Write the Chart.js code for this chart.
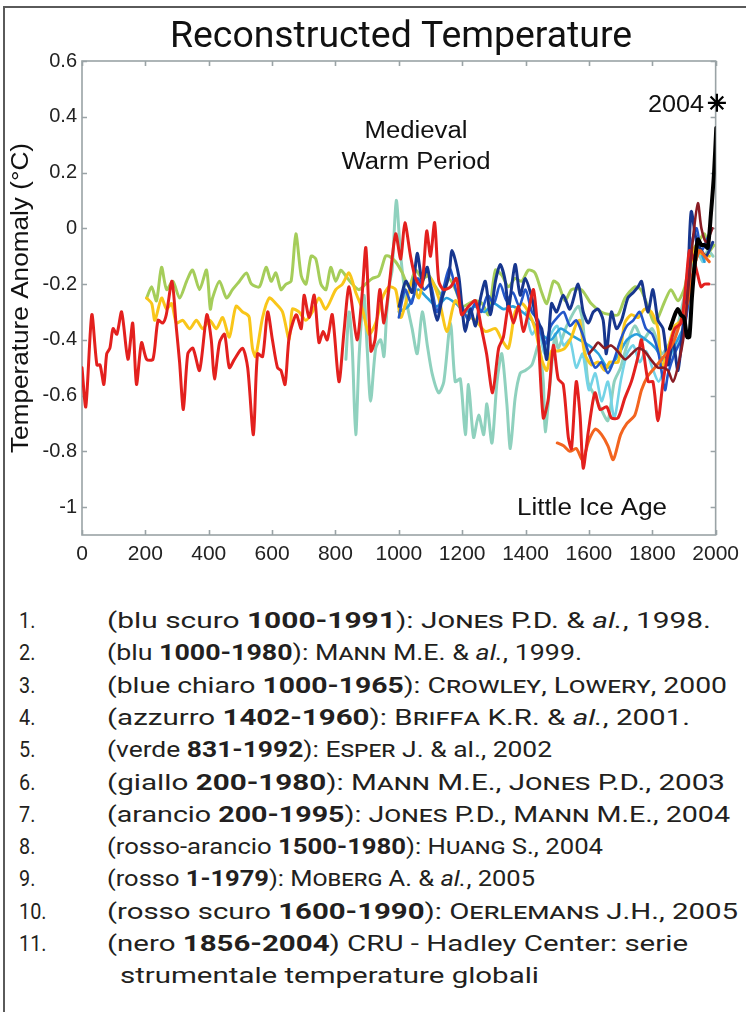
<!DOCTYPE html>
<html><head><meta charset="utf-8">
<script src="https://cdn.jsdelivr.net/npm/chart.js@4.4.1/dist/chart.umd.min.js"></script>
<style>
html,body{margin:0;padding:0;background:#fff;}
body{width:746px;height:1012px;position:relative;overflow:hidden;}
#frameTop{position:absolute;left:3px;top:6px;width:743px;height:0;border-top:2px solid #5a5a5a;}
#frameLeft{position:absolute;left:3px;top:6px;width:0;height:1006px;border-left:2px solid #5a5a5a;}
#c{position:absolute;left:0;top:0;}
#legend span.num,#legend span.txt{position:absolute;white-space:nowrap;font-family:Roboto,"Liberation Sans",sans-serif;font-size:22px;color:#231f20;transform-origin:0 0;line-height:26px;}
#legend b{font-weight:700;}
#legend .sc{font-variant:small-caps;}
#legend .bl{display:inline-block;width:0;height:0;vertical-align:baseline;}
</style></head>
<body>
<canvas id="c" width="746" height="575"></canvas>
<div id="frameTop"></div><div id="frameLeft"></div>
<div id="legend"></div>
<script>
// ---------- axis ticks ----------
const xTicks = [0,200,400,600,800,1000,1200,1400,1600,1800,2000];
const yTicks = [-1,-0.8,-0.6,-0.4,-0.2,0,0.2,0.4,0.6];
const yTickLabels = ['-1','-0.8','-0.6','-0.4','-0.2','0','0.2','0.4','0.6'];

// ---------- series (year, anomaly °C) ----------
// 1. Jones et al. 1998 (dark blue)
const jonesYears = [1001,1022,1042,1058,1074,1090,1105,1121,1137,1158,1168,1189,1200,1210,1226,1242,1258,1273,1289,1305,1320,1336,1346,1367,1383,1399,1420,1435,1451,1467,1482,1498,1519,1540,1566,1582,1598,1614,1629,1645,1655,1671,1687,1703,1723,1740,1755,1766,1776,1787,1802,1818,1834,1850,1865,1881,1897,1913,1923,1940,1955,1970,1991];
const jonesVals  = [-0.28,-0.19,-0.23,-0.09,-0.19,-0.14,-0.25,-0.33,-0.25,-0.17,-0.08,-0.17,-0.29,-0.37,-0.29,-0.35,-0.25,-0.19,-0.31,-0.19,-0.13,-0.19,-0.29,-0.13,-0.24,-0.18,-0.25,-0.33,-0.36,-0.47,-0.27,-0.30,-0.24,-0.29,-0.20,-0.30,-0.34,-0.30,-0.29,-0.33,-0.45,-0.30,-0.36,-0.33,-0.25,-0.23,-0.21,-0.19,-0.25,-0.30,-0.22,-0.33,-0.36,-0.49,-0.40,-0.51,-0.35,-0.15,0.06,-0.05,-0.08,-0.10,-0.05];
// 2. Mann et al. 1999 (blue)
const mann99Years = [1000,1020,1040,1060,1080,1100,1120,1140,1160,1180,1200,1220,1240,1260,1280,1300,1320,1340,1360,1380,1400,1420,1440,1460,1480,1500,1520,1540,1560,1580,1600,1620,1640,1660,1680,1700,1720,1740,1760,1780,1800,1820,1840,1850,1870,1890,1910,1925,1940,1955,1980];
const mann99Vals  = [-0.32,-0.22,-0.27,-0.18,-0.22,-0.20,-0.30,-0.22,-0.14,-0.22,-0.28,-0.33,-0.27,-0.30,-0.24,-0.27,-0.20,-0.26,-0.23,-0.28,-0.22,-0.30,-0.33,-0.42,-0.35,-0.32,-0.30,-0.35,-0.33,-0.38,-0.45,-0.50,-0.48,-0.52,-0.47,-0.40,-0.35,-0.33,-0.30,-0.36,-0.38,-0.45,-0.58,-0.52,-0.45,-0.40,-0.30,-0.05,0.00,-0.08,-0.02];
// 3. Crowley & Lowery 2000 (light blue)
const crowleyYears = [1000,1030,1060,1090,1120,1150,1180,1210,1240,1270,1300,1330,1360,1390,1420,1450,1480,1510,1540,1570,1600,1630,1660,1690,1720,1750,1780,1810,1840,1870,1900,1930,1950,1965];
const crowleyVals  = [-0.30,-0.28,-0.22,-0.25,-0.28,-0.25,-0.27,-0.30,-0.28,-0.30,-0.27,-0.29,-0.28,-0.30,-0.33,-0.38,-0.40,-0.36,-0.38,-0.40,-0.42,-0.45,-0.50,-0.46,-0.40,-0.38,-0.40,-0.43,-0.48,-0.42,-0.35,-0.15,-0.08,-0.12];
// 4. Briffa et al. 2001 (azzurro)
const briffaYears = [1402,1420,1440,1460,1480,1500,1520,1540,1560,1580,1600,1620,1640,1660,1680,1700,1720,1740,1760,1780,1800,1820,1840,1860,1880,1900,1920,1940,1960];
const briffaVals  = [-0.30,-0.38,-0.35,-0.45,-0.38,-0.35,-0.42,-0.40,-0.50,-0.45,-0.58,-0.52,-0.62,-0.55,-0.68,-0.55,-0.45,-0.42,-0.48,-0.44,-0.50,-0.55,-0.50,-0.45,-0.42,-0.35,-0.15,-0.08,-0.12];
// 5. Esper et al. 2002 (verde)
const esperYears = [833,843,853,864,875,890,900,911,927,943,953,962,972,979,992,1006,1022,1042,1058,1074,1090,1105,1126,1142,1163,1178,1194,1210,1220,1236,1252,1268,1278,1294,1310,1325,1341,1352,1367,1383,1399,1420,1441,1456,1462,1477,1493,1503,1530,1566,1580,1597,1618,1639,1660,1680,1700,1720,1745,1770,1800,1830,1860,1880,1900,1920,1940,1960,1975,1992];
const esperVals  = [-0.47,-0.30,-0.43,-0.74,-0.45,-0.24,-0.43,-0.62,-0.43,-0.40,-0.46,-0.30,-0.19,-0.15,0.10,-0.10,-0.25,-0.36,-0.45,-0.30,-0.42,-0.52,-0.59,-0.55,-0.34,-0.55,-0.54,-0.74,-0.56,-0.75,-0.67,-0.74,-0.63,-0.77,-0.55,-0.45,-0.63,-0.79,-0.61,-0.52,-0.51,-0.49,-0.42,-0.55,-0.73,-0.56,-0.38,-0.43,-0.35,-0.28,-0.33,-0.55,-0.60,-0.65,-0.69,-0.55,-0.50,-0.42,-0.35,-0.40,-0.36,-0.45,-0.40,-0.35,-0.25,-0.15,-0.08,-0.12,-0.08,-0.10];
// 6. Mann & Jones 2003 (giallo)
const mj03Years = [204,220,230,251,267,283,298,318,340,361,381,403,424,444,465,486,507,522,528,538,548,570,591,612,633,654,664,685,706,727,748,769,801,822,843,864,885,906,927,948,969,990,1006,1026,1042,1063,1084,1105,1126,1152,1178,1210,1242,1273,1305,1325,1346,1367,1388,1409,1430,1451,1467,1482,1503,1524,1545,1561,1571,1587,1608,1629,1650,1666,1692,1713,1734,1755,1776,1797,1818,1829,1850,1871,1892,1913,1934,1955,1980];
const mj03Vals  = [-0.25,-0.27,-0.33,-0.25,-0.29,-0.27,-0.34,-0.33,-0.36,-0.33,-0.36,-0.33,-0.36,-0.32,-0.39,-0.28,-0.30,-0.31,-0.32,-0.43,-0.46,-0.32,-0.25,-0.27,-0.30,-0.40,-0.29,-0.30,-0.33,-0.30,-0.25,-0.29,-0.22,-0.20,-0.16,-0.23,-0.29,-0.38,-0.34,-0.25,-0.21,-0.22,-0.32,-0.25,-0.19,-0.25,-0.16,-0.19,-0.25,-0.37,-0.26,-0.31,-0.33,-0.37,-0.36,-0.40,-0.43,-0.30,-0.27,-0.30,-0.36,-0.47,-0.51,-0.44,-0.44,-0.43,-0.39,-0.34,-0.33,-0.45,-0.49,-0.48,-0.51,-0.48,-0.48,-0.34,-0.31,-0.32,-0.29,-0.30,-0.36,-0.50,-0.43,-0.35,-0.33,-0.19,-0.07,-0.09,-0.10];
// 7. Jones & Mann 2004 (arancio / drawn lime)
const jm04Years = [204,220,235,251,267,287,308,330,349,371,393,405,412,434,456,475,497,519,535,560,581,597,612,628,644,660,675,692,707,723,738,754,770,785,801,817,832,853,874,895,916,937,958,969,990,1011,1032,1053,1074,1095,1116,1137,1158,1179,1200,1221,1242,1263,1283,1305,1326,1346,1367,1388,1409,1430,1451,1467,1488,1503,1525,1545,1576,1607,1639,1670,1692,1714,1745,1764,1786,1808,1840,1859,1881,1903,1920,1944,1965,1980,1995];
const jm04Vals  = [-0.25,-0.21,-0.26,-0.14,-0.22,-0.19,-0.25,-0.19,-0.15,-0.22,-0.15,-0.29,-0.25,-0.19,-0.25,-0.22,-0.19,-0.16,-0.20,-0.21,-0.14,-0.19,-0.16,-0.22,-0.20,-0.19,-0.02,-0.17,-0.20,-0.10,-0.11,-0.20,-0.22,-0.14,-0.19,-0.15,-0.17,-0.20,-0.22,-0.20,-0.18,-0.17,-0.10,-0.10,-0.12,-0.16,-0.21,-0.15,-0.18,-0.17,-0.21,-0.24,-0.18,-0.22,-0.28,-0.27,-0.26,-0.27,-0.31,-0.15,-0.17,-0.21,-0.18,-0.19,-0.15,-0.16,-0.23,-0.27,-0.19,-0.20,-0.26,-0.22,-0.22,-0.27,-0.30,-0.31,-0.31,-0.25,-0.21,-0.22,-0.28,-0.34,-0.26,-0.22,-0.26,-0.21,-0.10,-0.05,-0.02,-0.08,-0.06];
// 8. Huang 2004 (rosso-arancio)
const huangYears = [1500,1520,1540,1560,1580,1600,1620,1640,1660,1677,1700,1720,1745,1766,1786,1808,1829,1850,1870,1890,1913,1930,1950,1965,1980];
const huangVals  = [-0.77,-0.78,-0.80,-0.79,-0.83,-0.76,-0.72,-0.74,-0.78,-0.83,-0.74,-0.70,-0.67,-0.58,-0.53,-0.50,-0.47,-0.44,-0.40,-0.33,-0.26,-0.15,-0.08,-0.10,-0.12];
// 9. Moberg et al. 2005 (rosso)
const mobergYears = [0,12,31,47,57,69,78,88,98,110,125,145,160,172,188,204,224,240,255,266,284,298,308,320,334,350,371,394,408,418,434,450,465,481,507,523,541,554,570,586,601,617,628,641,654,676,692,701,717,733,748,761,774,790,811,827,843,868,884,896,912,925,940,953,969,990,1006,1019,1037,1053,1072,1088,1100,1113,1126,1141,1163,1182,1198,1220,1242,1261,1277,1296,1315,1330,1346,1362,1378,1393,1409,1425,1440,1456,1472,1488,1503,1519,1535,1545,1560,1572,1582,1598,1619,1635,1656,1671,1692,1713,1734,1755,1766,1787,1802,1818,1834,1850,1871,1891,1907,1917,1928,1944,1954,1965,1979];
const mobergVals  = [-0.50,-0.64,-0.31,-0.49,-0.49,-0.56,-0.45,-0.43,-0.36,-0.38,-0.30,-0.47,-0.34,-0.56,-0.41,-0.47,-0.47,-0.33,-0.34,-0.31,-0.19,-0.36,-0.48,-0.65,-0.45,-0.43,-0.51,-0.31,-0.40,-0.54,-0.41,-0.38,-0.50,-0.47,-0.43,-0.50,-0.74,-0.45,-0.46,-0.30,-0.40,-0.50,-0.51,-0.56,-0.39,-0.31,-0.36,-0.24,-0.32,-0.24,-0.41,-0.37,-0.40,-0.31,-0.55,-0.37,-0.21,-0.40,-0.24,-0.07,-0.44,-0.40,-0.22,-0.34,-0.21,-0.02,-0.11,0.02,-0.10,-0.18,-0.21,-0.01,-0.10,0.02,-0.19,-0.22,-0.21,-0.18,-0.31,-0.28,-0.26,-0.36,-0.45,-0.59,-0.43,-0.39,-0.28,-0.34,-0.28,-0.37,-0.30,-0.22,-0.39,-0.68,-0.61,-0.42,-0.54,-0.56,-0.75,-0.79,-0.55,-0.67,-0.86,-0.73,-0.59,-0.65,-0.64,-0.68,-0.68,-0.61,-0.55,-0.46,-0.40,-0.55,-0.55,-0.69,-0.55,-0.45,-0.36,-0.34,-0.19,-0.08,-0.10,-0.17,-0.21,-0.20,-0.20];
// 10. Oerlemans 2005 (rosso scuro)
const oerYears = [1600,1615,1629,1650,1670,1690,1714,1735,1755,1775,1795,1818,1835,1850,1865,1880,1900,1915,1930,1944,1955,1970,1990];
const oerVals  = [-0.45,-0.43,-0.41,-0.43,-0.42,-0.44,-0.47,-0.45,-0.43,-0.44,-0.47,-0.50,-0.50,-0.51,-0.55,-0.50,-0.38,-0.20,-0.02,0.09,0.00,-0.05,0.00];
// 11. CRU instrumental (nero)
const cruYears = [1856,1865,1875,1881,1890,1900,1910,1917,1925,1934,1944,1955,1965,1975,1985,1995,2002];
const cruVals  = [-0.36,-0.33,-0.30,-0.29,-0.31,-0.32,-0.39,-0.39,-0.25,-0.13,-0.04,-0.06,-0.06,-0.07,0.05,0.20,0.36];
const star2004Year = [2004];
const star2004Val  = [0.45];

// ---------- legend ----------
const legendNums = ['1.','2.','3.','4.','5.','6.','7.','8.','9.','10.','11.',''];
const legendLines = [
 '(blu scuro <b>1000-1991</b>): <span class="sc">Jones</span> P.D. &amp; <i>al.</i>, 1998.',
 '(blu <b>1000-1980</b>): <span class="sc">Mann</span> M.E. &amp; <i>al.</i>, 1999.',
 '(blue chiaro <b>1000-1965</b>): <span class="sc">Crowley</span>, <span class="sc">Lowery</span>, 2000',
 '(azzurro <b>1402-1960</b>): <span class="sc">Briffa</span> K.R. &amp; <i>al.</i>, 2001.',
 '(verde <b>831-1992</b>): <span class="sc">Esper</span> J. &amp; al., 2002',
 '(giallo <b>200-1980</b>): <span class="sc">Mann</span> M.E., <span class="sc">Jones</span> P.D., 2003',
 '(arancio <b>200-1995</b>): <span class="sc">Jones</span> P.D., <span class="sc">Mann</span> M.E., 2004',
 '(rosso-arancio <b>1500-1980</b>): <span class="sc">Huang</span> S., 2004',
 '(rosso <b>1-1979</b>): <span class="sc">Moberg</span> A. &amp; <i>al.</i>, 2005',
 '(rosso scuro <b>1600-1990</b>): <span class="sc">Oerlemans</span> J.H., 2005',
 '(nero <b>1856-2004</b>) CRU - Hadley Center: serie',
 'strumentale temperature globali'
];
// right-hand end of each legend line (0 = same scale as previous line)
const legendEnds = [711,582,727,690,552,725,730,603,535,738,688,0];

// ---------- build chart ----------
const pts = (ys, vs) => ys.map((x, i) => ({x, y: vs[i]}));
const seriesDefs = [
  {label:'CRU - Hadley Center', ys:cruYears, vs:cruVals, color:'#000000', w:4, order:0},
  {label:'Oerlemans 2005', ys:oerYears, vs:oerVals, color:'#8a1c24', w:2.6, order:1},
  {label:'Moberg 2005', ys:mobergYears, vs:mobergVals, color:'#e3201e', w:3, order:2},
  {label:'Huang 2004', ys:huangYears, vs:huangVals, color:'#f3641f', w:3, order:3},
  {label:'Jones 1998', ys:jonesYears, vs:jonesVals, color:'#17368e', w:3, order:4},
  {label:'Mann 1999', ys:mann99Years, vs:mann99Vals, color:'#2356c9', w:2.6, order:5},
  {label:'Mann & Jones 2003', ys:mj03Years, vs:mj03Vals, color:'#f9c61a', w:3, order:6},
  {label:'Crowley & Lowery 2000', ys:crowleyYears, vs:crowleyVals, color:'#2aa0dc', w:2.6, order:7},
  {label:'Briffa 2001', ys:briffaYears, vs:briffaVals, color:'#74d3e6', w:2.6, order:8},
  {label:'Jones & Mann 2004', ys:jm04Years, vs:jm04Vals, color:'#a5cd5a', w:3, order:9},
  {label:'Esper 2002', ys:esperYears, vs:esperVals, color:'#8fd1be', w:3, order:10}
];
const datasets = seriesDefs.map(s => ({
  label:s.label, data:pts(s.ys, s.vs), borderColor:s.color, backgroundColor:s.color,
  borderWidth:s.w, order:s.order, pointRadius:0, tension:0.25, fill:false
}));
datasets.push({label:'2004', data:pts(star2004Year, star2004Val), showLine:false, pointStyle:'star',
  pointRadius:9, pointBorderWidth:2.2, borderColor:'#000', backgroundColor:'#000', order:-1, clip:false});

const AXIS = '#9aa3a6';
function fitText(ctx, text, x, y, font, w, align){
  ctx.save(); ctx.font = font; ctx.textAlign = 'left'; ctx.textBaseline = 'alphabetic';
  const nat = ctx.measureText(text).width; const s = w / nat;
  ctx.translate(x, y); ctx.scale(s, 1);
  const off = align === 'center' ? -nat/2 : (align === 'right' ? -nat : 0);
  ctx.fillText(text, off, 0); ctx.restore();
}
const overlay = {
  id:'overlay',
  beforeDatasetsDraw(chart){
    const {ctx, chartArea:a, scales:{x, y}} = chart;
    ctx.save(); ctx.strokeStyle = AXIS; ctx.lineWidth = 1.6;
    ctx.strokeRect(a.left, a.top, a.right - a.left, a.bottom - a.top);
    ctx.beginPath();
    xTicks.forEach(v => { const p = Math.round(x.getPixelForValue(v)) + 0.5;
      ctx.moveTo(p, a.bottom); ctx.lineTo(p, a.bottom - 5); ctx.moveTo(p, a.top); ctx.lineTo(p, a.top + 5); });
    yTicks.forEach(v => { const p = Math.round(y.getPixelForValue(v)) + 0.5;
      ctx.moveTo(a.left, p); ctx.lineTo(a.left + 5, p); ctx.moveTo(a.right, p); ctx.lineTo(a.right - 5, p); });
    ctx.stroke(); ctx.restore();
  },
  afterDraw(chart){
    const ctx = chart.ctx;
    ctx.save(); ctx.fillStyle = '#111';
    fitText(ctx, 'Reconstructed Temperature', 401, 47, '36px Roboto', 462, 'center');
    fitText(ctx, 'Medieval', 416, 138, '23px "Liberation Sans"', 103, 'center');
    fitText(ctx, 'Warm Period', 416, 169, '23px "Liberation Sans"', 149, 'center');
    fitText(ctx, '2004', 676, 112, '23px "Liberation Sans"', 56, 'center');
    fitText(ctx, 'Little Ice Age', 592, 515, '23px "Liberation Sans"', 150, 'center');
    ctx.save(); ctx.translate(28, 298); ctx.rotate(-Math.PI/2);
    fitText(ctx, 'Temperature Anomaly (°C)', 0, 0, '23px "Liberation Sans"', 310, 'center');
    ctx.restore();
    ctx.restore();
  }
};

new Chart(document.getElementById('c'), {
  type:'line',
  data:{datasets},
  options:{
    responsive:false, animation:false, devicePixelRatio:1,
    layout:{padding:{top:61, right:27, left:0, bottom:0}},
    plugins:{legend:{display:false}, tooltip:{enabled:false}, title:{display:false}},
    elements:{point:{radius:0}, line:{borderCapStyle:'round', borderJoinStyle:'round'}},
    scales:{
      x:{type:'linear', min:0, max:2000,
        afterBuildTicks:s => { s.ticks = xTicks.map(v => ({value:v})); },
        afterFit:s => { s.height = 40; },
        grid:{display:false, drawTicks:false}, border:{display:false},
        ticks:{font:{family:'Liberation Sans', size:21}, color:'#222', padding:7, maxRotation:0, autoSkip:false,
          callback:v => String(v)}},
      y:{type:'linear', min:-1.1, max:0.6,
        afterBuildTicks:s => { s.ticks = yTicks.map(v => ({value:v})); },
        afterFit:s => { s.width = 82; },
        grid:{display:false, drawTicks:false}, border:{display:false},
        ticks:{font:{family:'Liberation Sans', size:20}, color:'#222', padding:5, autoSkip:false,
          callback:(v, i) => yTickLabels[i]}}
    }
  },
  plugins:[overlay]
});

// ---------- legend text ----------
const L = document.getElementById('legend');
const base0 = 628, step = 32.3;
const spans = [];
legendLines.forEach((html, i) => {
  const n = document.createElement('span'); n.className = 'num';
  n.innerHTML = legendNums[i] + '<span class="bl"></span>'; n.style.left = '19px';
  const t = document.createElement('span'); t.className = 'txt';
  t.innerHTML = html + '<span class="bl"></span>'; t.style.left = (i === 11 ? 120 : 107) + 'px';
  L.appendChild(n); L.appendChild(t); spans.push([n, t]);
});
let lastScale = 0.9;
spans.forEach(([n, t], i) => {
  const b = base0 + step * i;
  const nat = t.getBoundingClientRect().width;
  const left = parseFloat(t.style.left);
  const sx = legendEnds[i] ? (legendEnds[i] - left) / nat : lastScale;
  lastScale = sx;
  [n, t].forEach(el => {
    const off = el.querySelector('.bl').offsetTop;
    el.style.top = (b - off) + 'px';
  });
  t.style.transform = 'scaleX(' + sx + ')';
  n.style.transform = 'scaleX(0.9)';
});
</script>
</body></html>
